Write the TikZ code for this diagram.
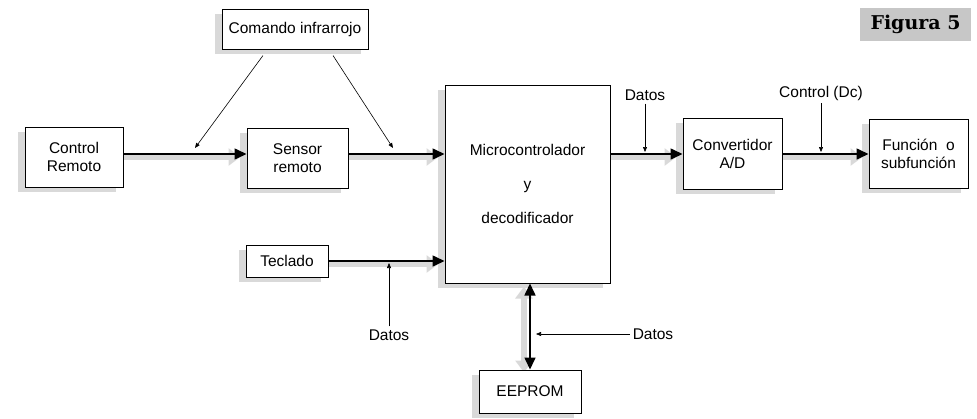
\documentclass[tikz,border=0pt]{standalone}
\usepackage{fontspec}
\setmainfont{Liberation Sans}
\newfontfamily\figfont{DejaVu Serif}
\usetikzlibrary{arrows.meta, shadows, backgrounds}

\tikzset{
  bloque/.style={draw, line width=1pt, fill=white, align=center, inner sep=0pt,
    drop shadow={shadow xshift=-7pt, shadow yshift=-5pt, fill=black!15, opacity=1}},
  etiqueta/.style={inner sep=3pt},
  flujo/.style={line width=1.6pt, -{Triangle[length=12pt,width=11pt]}},
  sombra/.style={black!15, line width=6pt, -{Triangle[length=12pt,width=17pt]},
    transform canvas={xshift=-6pt,yshift=-3pt}},
  senal/.style={line width=0.6pt, -{Triangle[length=5pt,width=4pt]}},
}

\begin{document}
\begin{tikzpicture}[x=1pt, y=-1pt, font=\fontsize{15.5}{18}\selectfont]
\useasboundingbox (0,0) rectangle (977,418);

% bloques
\node[bloque, minimum width=146pt, minimum height=40pt] (infra) at (295,29) {Comando infrarrojo};
\node[bloque, minimum width=98pt, minimum height=60pt] (remoto) at (74,157) {Control\\Remoto};
\node[bloque, minimum width=101pt, minimum height=60pt] (sensor) at (297.5,158) {Sensor\\remoto};
\node[bloque, minimum width=165pt, minimum height=198pt] (micro) at (527.5,184) {Microcontrolador\\[16pt]y\\[16pt]decodificador};
\node[bloque, minimum width=99pt, minimum height=71pt] (conv) at (732.5,153.5) {Convertidor\\A/D};
\node[bloque, minimum width=99pt, minimum height=69pt] (func) at (918.5,153.5) {Función~ o\\subfunción};
\node[bloque, minimum width=82pt, minimum height=32pt] (teclado) at (287,261) {Teclado};
\node[bloque, minimum width=102pt, minimum height=43pt] (eeprom) at (530,391.5) {EEPROM};
\node[fill=black!22, minimum width=111pt, minimum height=33pt,
  font=\figfont\bfseries\fontsize{19}{20}\selectfont] (fig) at (915.5,24.5) {Figura 5};

% etiquetas
\node[etiqueta] (datos1) at (645,95) {Datos};
\node[etiqueta] (dc) at (821,93) {Control (Dc)};
\node[etiqueta] (datos2) at (389,335) {Datos};
\node[etiqueta] (datos3) at (653,334) {Datos};

\coordinate (fila) at (0,154);
\coordinate (irA) at (195,148);
\coordinate (irB) at (393,148);

% sombras de las flechas
\begin{scope}[on background layer]
\draw[sombra] (remoto.east |- fila) -- (sensor.west |- fila);
\draw[sombra] (sensor.east |- fila) -- (micro.west |- fila);
\draw[sombra] (micro.east |- fila) -- (conv.west |- fila);
\draw[sombra] (conv.east |- fila) -- (func.west |- fila);
\draw[sombra] (teclado.east) -- (micro.west |- teclado.east);
\draw[sombra, {Triangle[length=12pt,width=17pt]}-{Triangle[length=12pt,width=17pt]}]
  (eeprom.north) -- (micro.south -| eeprom.north);
\end{scope}

% flechas
\draw[flujo] (remoto.east |- fila) -- (sensor.west |- fila);
\draw[flujo] (sensor.east |- fila) -- (micro.west |- fila);
\draw[flujo] (micro.east |- fila) -- (conv.west |- fila);
\draw[flujo] (conv.east |- fila) -- (func.west |- fila);
\draw[flujo] (teclado.east) -- (micro.west |- teclado.east);
\draw[flujo, {Triangle[length=12pt,width=11pt]}-{Triangle[length=12pt,width=11pt]}]
  (eeprom.north) -- (micro.south -| eeprom.north);

% senales
\draw[senal] ([xshift=-32pt,yshift=-6pt]infra.south) -- (irA);
\draw[senal] ([xshift=38pt,yshift=-6pt]infra.south) -- (irB);
\draw[senal, shorten >=2pt] (datos1.south) -- (datos1.south |- fila);
\draw[senal, shorten >=2pt] (dc.south) -- (dc.south |- fila);
\draw[senal, shorten >=2pt] (datos2.north) -- (datos2.north |- teclado.east);
\draw[senal, shorten >=6pt] (datos3.west) -- (datos3.west -| eeprom.north);

\end{tikzpicture}
\end{document}
